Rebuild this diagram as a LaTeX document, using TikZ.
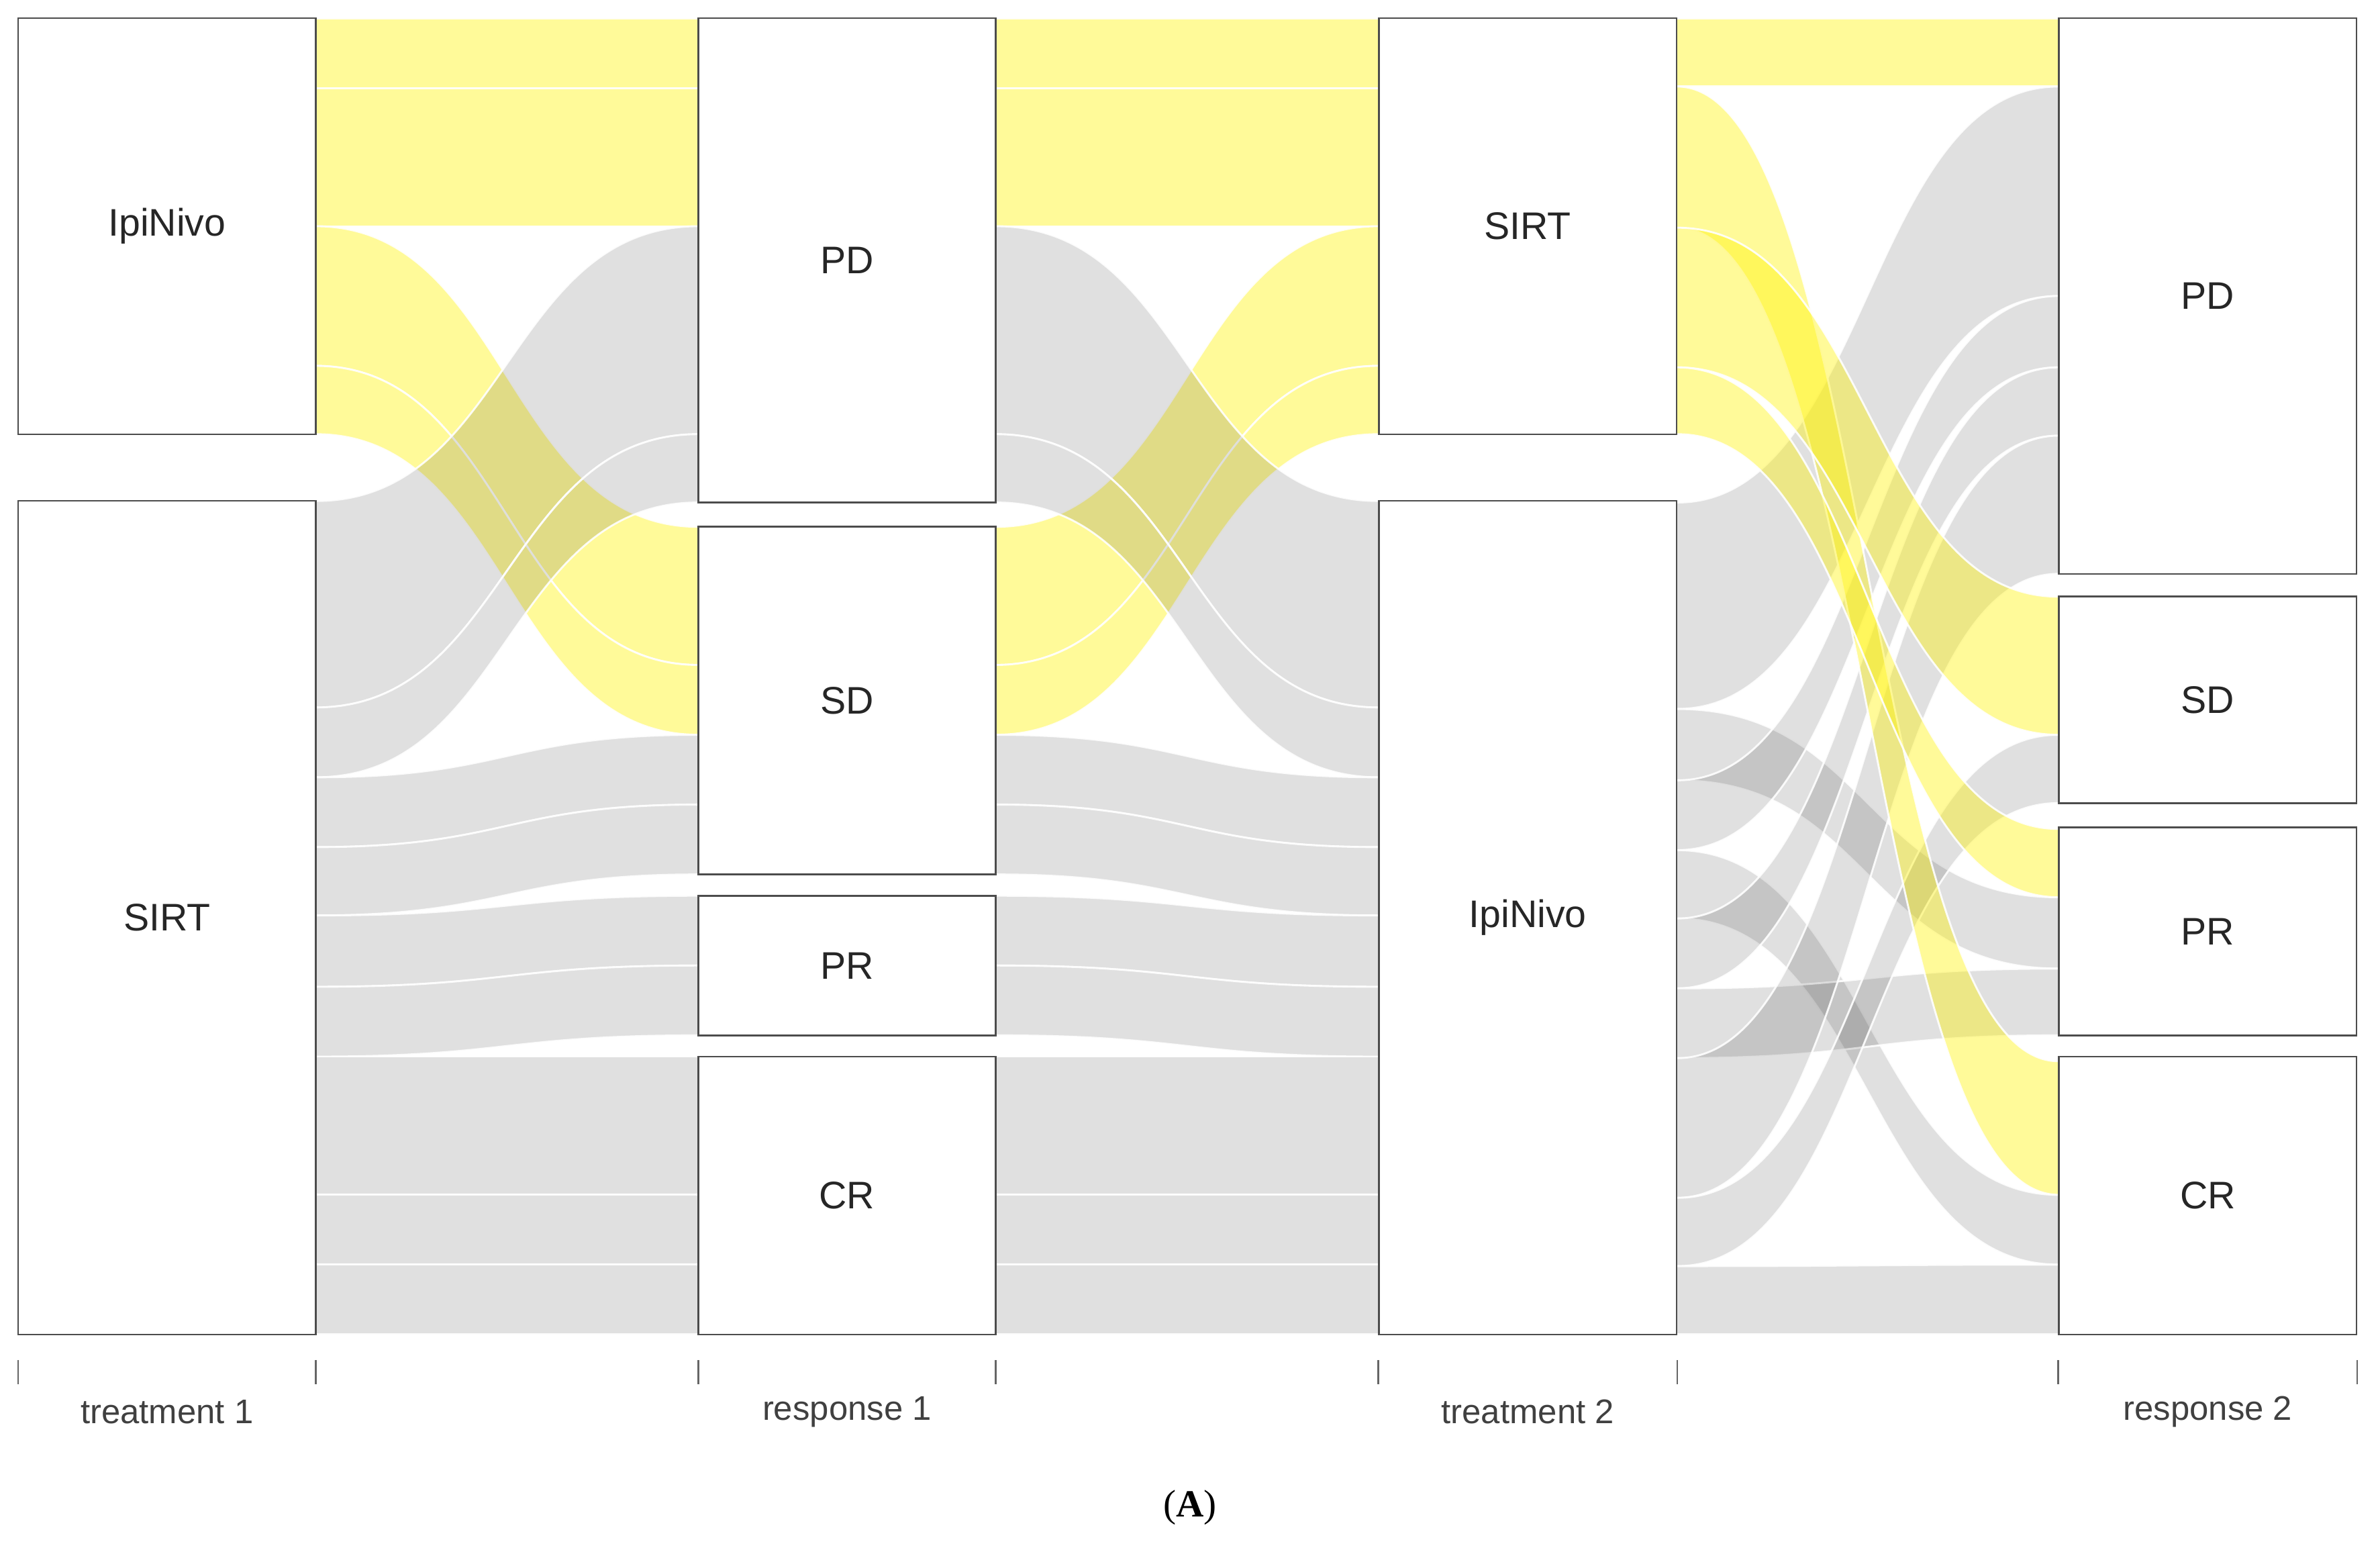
\documentclass[tikz,border=0pt]{standalone}
\usepackage{fontspec}
\setmainfont{Liberation Sans}
\newfontfamily\serifA{Liberation Serif}
\begin{document}
\begin{tikzpicture}[x=0.025cm,y=-0.025cm,
  yel/.style={fill=yellow,fill opacity=0.4},
  gry/.style={fill=black,fill opacity=0.12},
  sep/.style={draw=white,line width=0.9pt,opacity=0.9},
  box/.style={draw=black!70,line width=0.8pt,fill=white,minimum width=4.9cm,inner sep=0pt,font=\fontsize{18}{20}\selectfont,text=black!85},
  tick/.style={draw=black!60,line width=0.8pt},
  axl/.style={font=\fontsize{16}{18}\selectfont,text=black!75}]
\newcommand\fb[7]{%
  \pgfmathsetmacro\xm{(#1+#2)/2}%
  \fill[#7] (#1,#3) .. controls (\xm,#3) and (\xm,#5) .. (#2,#5) -- (#2,#6) .. controls (\xm,#6) and (\xm,#4) .. (#1,#4) -- cycle;
  \draw[sep] (#1,#3) .. controls (\xm,#3) and (\xm,#5) .. (#2,#5);
  \draw[sep] (#1,#4) .. controls (\xm,#4) and (\xm,#6) .. (#2,#6);}
\useasboundingbox (0,0) rectangle (1568,1016.6);
% segment 1
\fb{208}{460}{12}{58}{12}{58}{yel}
\fb{208}{460}{58}{149}{58}{149}{yel}
\fb{208}{460}{149}{241}{347}{438}{yel}
\fb{208}{460}{241}{286}{438}{484}{yel}
\fb{208}{460}{330}{466}{149}{286}{gry}
\fb{208}{460}{466}{512}{286}{331}{gry}
\fb{208}{460}{512}{558}{484}{530}{gry}
\fb{208}{460}{558}{603}{530}{576}{gry}
\fb{208}{460}{603}{650}{590}{636}{gry}
\fb{208}{460}{650}{696}{636}{682}{gry}
\fb{208}{460}{696}{787}{696}{787}{gry}
\fb{208}{460}{787}{833}{787}{833}{gry}
\fb{208}{460}{833}{879}{833}{879}{gry}
% segment 2
\fb{656}{908}{12}{58}{12}{58}{yel}
\fb{656}{908}{58}{149}{58}{149}{yel}
\fb{656}{908}{347}{438}{149}{241}{yel}
\fb{656}{908}{438}{484}{241}{286}{yel}
\fb{656}{908}{149}{286}{330}{466}{gry}
\fb{656}{908}{286}{331}{466}{512}{gry}
\fb{656}{908}{484}{530}{512}{558}{gry}
\fb{656}{908}{530}{576}{558}{603}{gry}
\fb{656}{908}{590}{636}{603}{650}{gry}
\fb{656}{908}{636}{682}{650}{696}{gry}
\fb{656}{908}{696}{787}{696}{787}{gry}
\fb{656}{908}{787}{833}{787}{833}{gry}
\fb{656}{908}{833}{879}{833}{879}{gry}
% segment 3
\fb{1105}{1356}{331}{467}{57}{195}{gry}
\fb{1105}{1356}{467}{514}{591}{638}{gry}
\fb{1105}{1356}{514}{560}{195}{242}{gry}
\fb{1105}{1356}{560}{605}{787}{833}{gry}
\fb{1105}{1356}{605}{651}{242}{287}{gry}
\fb{1105}{1356}{651}{697}{638}{682}{gry}
\fb{1105}{1356}{697}{789}{287}{378}{gry}
\fb{1105}{1356}{789}{834}{484}{529}{gry}
\fb{1105}{1356}{834}{879}{833}{879}{gry}
\fb{1105}{1356}{12}{57}{12}{57}{yel}
\fb{1105}{1356}{57}{150}{699}{787}{yel}
\fb{1105}{1356}{150}{242}{393}{484}{yel}
\fb{1105}{1356}{242}{286}{546}{591}{yel}
% strata
\node[box,minimum height=6.85cm] (t1i) at (110,149) {IpiNivo};
\node[box,minimum height=13.725cm] (t1s) at (110,604.5) {SIRT};
\node[box,minimum height=7.975cm] (r1pd) at (558,171.5) {PD};
\node[box,minimum height=5.725cm] (r1sd) at (558,461.5) {SD};
\node[box,minimum height=2.3cm] (r1pr) at (558,636) {PR};
\node[box,minimum height=4.575cm] (r1cr) at (558,787.5) {CR};
\node[box,minimum height=6.85cm] (t2s) at (1006.5,149) {SIRT};
\node[box,minimum height=13.725cm] (t2i) at (1006.5,604.5) {IpiNivo};
\node[box,minimum height=9.15cm] (r2pd) at (1454.5,195) {PD};
\node[box,minimum height=3.4cm] (r2sd) at (1454.5,461) {SD};
\node[box,minimum height=3.425cm] (r2pr) at (1454.5,613.5) {PR};
\node[box,minimum height=4.575cm] (r2cr) at (1454.5,787.5) {CR};
% axis
\foreach \x in {12,208,460,656,908,1105,1356,1553} \draw[tick] (\x,896) -- (\x,912);
\node[axl] (l1) at (110,930) {treatment 1};
\node[axl] (l2) at (558,930) {response 1};
\node[axl] (l3) at (1006.5,930) {treatment 2};
\node[axl] (l4) at (1454.5,930) {response 2};
\node[font=\serifA\fontsize{18}{20}\selectfont] (cap) at (784,993) {(\textbf{A})};
\end{tikzpicture}
\end{document}
